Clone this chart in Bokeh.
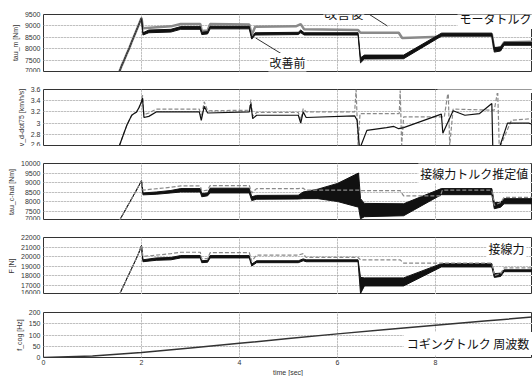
from bokeh.plotting import figure
from bokeh.layouts import column
from bokeh.models import Range1d, LinearAxis, FixedTicker, Grid, Label, CustomJSTickFormatter
from bokeh.embed import file_html
from bokeh.resources import INLINE

T_END = 9.98
x_ticks = [0, 2, 4, 6, 8]

# shared start-up ramp times
ramp_t = [1.55, 1.6, 1.65, 1.7, 1.75, 1.8, 1.85, 1.9, 1.95, 2.0]

# ---- panel 1: motor torque tau_m [Nm]
tm_ramp = [7000, 7280, 7520, 7780, 8020, 8300, 8560, 8820, 9080, 9350]
tm_before_t = [2.03, 2.15, 2.6, 2.8, 3.2, 3.23, 3.35, 3.4, 4.2, 4.25, 4.32, 5.2, 5.25, 5.32,
               6.42, 6.47, 6.55, 7.35, 8.12, 9.15, 9.2, 9.33, 9.4, 9.98]
tm_before_lo = [8600, 8700, 8730, 8850, 8850, 8620, 8650, 8870, 8870, 8420, 8600, 8620, 8700, 8600,
                8600, 7380, 7550, 7560, 8550, 8550, 7850, 7900, 8150, 8150]
tm_before_hi = [8700, 8820, 8850, 8970, 8970, 8720, 8750, 8980, 8980, 8500, 8700, 8720, 8820, 8700,
                8700, 7600, 7720, 7720, 8680, 8680, 8050, 8080, 8280, 8280]
tm_after_t = [2.03, 2.6, 2.8, 3.2, 3.23, 3.35, 3.4, 4.2, 4.25, 4.32, 5.15, 5.25, 5.32, 6.42,
              6.47, 7.25, 7.32, 8.1, 8.14, 9.15, 9.2, 9.33, 9.4, 9.98]
tm_after = [8900, 8980, 9080, 9080, 8780, 8800, 9080, 9060, 8600, 8960, 8980, 9080, 8850, 8820,
            8700, 8700, 8470, 8520, 8640, 8640, 7980, 8050, 8280, 8300]

# ---- panel 2: wheel acceleration v_d-dot75 [km/h/s]
vd_ramp = [2.6, 2.72, 2.84, 2.96, 3.05, 3.14, 3.17, 3.2, 3.28, 3.38]
vd_before_t = [2.02, 2.05, 2.15, 2.3, 3.18, 3.22, 3.28, 3.35, 4.2, 4.23, 4.27, 4.35, 5.2, 5.25,
               5.3, 5.36, 6.35, 6.4, 6.45, 6.48, 6.6, 7.0, 7.15, 7.25, 7.35, 8.12, 8.15, 8.36,
               8.6, 8.9, 9.15, 9.17, 9.3, 9.47, 9.9, 9.98]
vd_before = [3.45, 3.1, 3.12, 3.2, 3.2, 3.05, 3.3, 3.18, 3.2, 3.35, 3.08, 3.14, 3.14, 3.0,
             3.2, 3.1, 3.13, 3.05, 2.55, 2.6, 2.87, 2.92, 2.94, 2.9, 2.92, 3.16, 2.82, 3.22,
             3.14, 3.17, 3.35, 2.55, 2.55, 3.0, 3.0, 2.98]
vd_after_t = [2.02, 2.05, 2.15, 2.3, 3.18, 3.22, 3.28, 3.35, 4.2, 4.23, 4.27, 4.35, 5.2, 5.25,
              5.3, 5.36, 6.35, 6.38, 6.42, 6.46, 7.26, 7.28, 7.31, 7.35, 8.18, 8.26, 8.29, 8.36,
              9.2, 9.27, 9.3, 9.33, 9.55, 9.98]
vd_after = [3.5, 3.15, 3.18, 3.25, 3.25, 3.1, 3.38, 3.22, 3.23, 3.42, 3.12, 3.19, 3.19, 3.05,
            3.26, 3.2, 3.2, 3.6, 2.6, 3.17, 3.17, 3.58, 2.6, 3.11, 3.11, 3.58, 2.6, 3.25,
            3.23, 3.58, 2.6, 2.6, 3.05, 3.08]

# ---- panel 3: estimated tangential-force torque tau_c-hat [Nm]
tc_ramp = [7000, 7230, 7460, 7690, 7920, 8150, 8380, 8610, 8850, 9100]
tc_before_t = [2.03, 2.3, 2.6, 2.8, 3.2, 3.23, 3.35, 3.4, 4.2, 4.25, 4.35, 5.2, 5.3, 5.6, 6.0,
               6.43, 6.47, 6.55, 7.35, 8.12, 9.15, 9.2, 9.33, 9.4, 9.98]
tc_before_lo = [8350, 8380, 8450, 8500, 8500, 8250, 8300, 8450, 8450, 8050, 8120, 8130, 8150, 8150, 8000,
                7700, 7090, 7200, 7250, 8360, 8360, 7620, 7700, 7880, 7880]
tc_before_hi = [8450, 8500, 8580, 8680, 8680, 8420, 8450, 8700, 8700, 8250, 8320, 8330, 8500, 8650, 8950,
                9500, 8150, 7900, 7880, 8680, 8680, 7940, 7950, 8150, 8150]
tc_after_t = [2.03, 2.6, 2.8, 3.2, 3.23, 3.35, 3.4, 4.2, 4.25, 4.35, 5.2, 5.3, 5.35, 6.43,
              6.47, 7.28, 7.35, 8.1, 8.14, 9.15, 9.2, 9.33, 9.4, 9.98]
tc_after = [8600, 8750, 8820, 8820, 8550, 8600, 8840, 8840, 8450, 8680, 8680, 8700, 8600, 8600,
            8570, 8570, 8300, 8300, 8600, 8600, 7800, 7950, 8220, 8220]

# ---- panel 4: tangential force F [N]
f_ramp = [16000, 16550, 17100, 17650, 18200, 18750, 19300, 19850, 20450, 21150]
f_before_t = [2.03, 2.3, 2.6, 2.8, 3.2, 3.23, 3.35, 3.4, 4.2, 4.25, 4.35, 5.2, 5.3, 5.36,
              6.42, 6.47, 6.55, 7.35, 8.12, 9.15, 9.2, 9.33, 9.4, 9.98]
f_before_lo = [19450, 19600, 19650, 19850, 19850, 19350, 19400, 19850, 19850, 19000, 19350, 19350, 19550, 19450,
               19450, 16100, 16900, 16900, 18900, 18900, 17800, 17900, 18400, 18400]
f_before_hi = [19650, 19850, 19900, 20100, 20100, 19550, 19600, 20100, 20100, 19200, 19550, 19550, 19750, 19650,
               19650, 17800, 17750, 17750, 19250, 19250, 18200, 18250, 18600, 18600]
f_after_t = [2.03, 2.6, 2.8, 3.2, 3.23, 3.35, 3.4, 4.2, 4.25, 4.35, 5.2, 5.3, 5.36, 6.42,
             6.47, 7.28, 7.35, 8.1, 8.14, 9.15, 9.2, 9.33, 9.4, 9.98]
f_after = [20000, 20300, 20450, 20450, 19750, 19800, 20400, 20400, 19500, 20150, 20150, 20300, 19900, 19900,
           19650, 19650, 19300, 19300, 19300, 19300, 18000, 18200, 18800, 18800]

# ---- panel 5: cogging torque frequency f_cog [Hz]
fc_t = [0, 1, 2, 3, 4, 5, 6, 7, 8, 9, 9.98]
fc = [0, 7, 22, 42, 63, 84, 105, 124, 143, 162, 180]

FONT_TICK = "Liberation Sans"
FONT_JP = "Noto Sans CJK JP"
FRAME_W = 489
BLACK = "#111111"
GRAY = "#8a8a8a"


def make_panel(ylabel, y0, y1, yticks, top, fh, bottom):
    p = figure(frame_width=FRAME_W, frame_height=fh,
               x_range=Range1d(0, T_END), y_range=Range1d(y0, y1),
               x_axis_location=None, y_axis_location=None,
               output_backend="svg", toolbar_location=None,
               min_border_left=43, min_border_right=0,
               min_border_top=top, min_border_bottom=bottom)
    p.outline_line_color = "#333333"
    p.outline_line_width = 1
    p.background_fill_color = "white"
    p.border_fill_color = "white"
    ya = LinearAxis(ticker=FixedTicker(ticks=yticks), axis_label=ylabel,
                    formatter=CustomJSTickFormatter(code="return String(tick)"))
    ya.axis_line_color = None
    ya.major_tick_out = 0
    ya.major_tick_in = 0
    ya.minor_tick_out = 0
    ya.minor_tick_in = 0
    ya.major_label_standoff = 3
    ya.major_label_text_font = FONT_TICK
    ya.major_label_text_font_size = "7px"
    ya.major_label_text_color = "#333333"
    ya.axis_label_text_font = FONT_TICK
    ya.axis_label_text_font_size = "7px"
    ya.axis_label_text_font_style = "normal"
    ya.axis_label_text_color = "#333333"
    ya.axis_label_standoff = 3
    p.add_layout(ya, "left")
    inner = [v for v in yticks if v not in (y0, y1)]
    p.add_layout(Grid(dimension=1, ticker=FixedTicker(ticks=inner),
                      grid_line_color="#9a9a9a", grid_line_dash="1 2", grid_line_width=1))
    p.add_layout(Grid(dimension=0, ticker=FixedTicker(ticks=[v for v in x_ticks if v > 0]),
                      grid_line_color="#9a9a9a", grid_line_dash="1 2", grid_line_width=1))
    return p, (y0, y1, fh)


def ypos(geom, px_from_top):
    """data y of a point px_from_top pixels below the frame top (negative = above)."""
    y0, y1, fh = geom
    return y1 - px_from_top * (y1 - y0) / fh


def add_label(p, geom, x, px_from_top, text, size="12px", pad=2):
    lab = Label(x=x, y=ypos(geom, px_from_top), text=text, text_font=FONT_JP, text_font_size=size,
                text_color="#111111", text_baseline="middle", text_align="left",
                background_fill_color="white", background_fill_alpha=1.0,
                padding=pad, level="overlay")
    p.add_layout(lab)
    return lab


def band(p, t, lo, hi):
    p.varea(x=t, y1=lo, y2=hi, fill_color=BLACK)
    p.line(t, lo, line_color=BLACK, line_width=1)
    p.line(t, hi, line_color=BLACK, line_width=1)


# ---------------- panel 1  (page y 0..72, frame 14..71)
p1, g1 = make_panel("tau_m [Nm]", 7000, 9500, [7000, 7500, 8000, 8500, 9000, 9500], 14, 57, 1)
p1.line(ramp_t + tm_after_t, tm_ramp + tm_after, line_color=GRAY, line_width=2.5)
band(p1, ramp_t + tm_before_t, tm_ramp + tm_before_lo, tm_ramp + tm_before_hi)
p1.line(ramp_t, tm_ramp, line_color="#555555", line_width=1)
p1.line([6.58, 7.02], [9600, 8995], line_color="#333333", line_width=1)
p1.line([4.33, 4.9], [8470, 7720], line_color="#333333", line_width=1)
add_label(p1, g1, 5.71, -2, "改善後", size="13px", pad=1)
add_label(p1, g1, 4.59, 48, "改善前", size="12px", pad=1)
add_label(p1, g1, 8.45, 4, "モータトルク", size="12px", pad=2)

# ---------------- panel 2  (page y 72..146, frame 89..145)
p2, g2 = make_panel("v_d-dot75 [km/h/s]", 2.6, 3.6, [2.6, 2.8, 3.0, 3.2, 3.4, 3.6], 17, 56, 1)
p2.line(ramp_t + vd_after_t, vd_ramp + vd_after, line_color=GRAY, line_width=1.2, line_dash="4 2")
p2.line(ramp_t + vd_before_t, vd_ramp + vd_before, line_color=BLACK, line_width=1.2)
add_label(p2, g2, 8.04, -9, "車輪周加速度      ", size="12px", pad=4)
for txt, dx, dy, fs in (("v̇", 74, -9, "12px"), ("75", 81, -14, "7px"), ("d", 81, -4, "7px")):
    p2.add_layout(Label(x=8.04, y=ypos(g2, dy), x_offset=dx, text=txt, text_font="DejaVu Serif",
                        text_font_style="italic", text_font_size=fs, text_baseline="middle",
                        text_color="#111111", level="overlay"))

# ---------------- panel 3  (page y 146..220, frame 163..220)
p3, g3 = make_panel("tau_c-hat [Nm]", 7000, 10000,
                    [7000, 7500, 8000, 8500, 9000, 9500, 10000], 17, 57, 0)
band(p3, ramp_t + tc_before_t, tc_ramp + tc_before_lo, tc_ramp + tc_before_hi)
p3.line(ramp_t + tc_after_t, tc_ramp + tc_after, line_color=GRAY, line_width=1.2, line_dash="4 2")
add_label(p3, g3, 7.65, 9.5, "接線力トルク推定値", size="12px", pad=2)

# ---------------- panel 4  (page y 220..294, frame 237..294)
p4, g4 = make_panel("F [N]", 16000, 22000,
                    [16000, 17000, 18000, 19000, 20000, 21000, 22000], 17, 57, 0)
band(p4, ramp_t + f_before_t, f_ramp + f_before_lo, f_ramp + f_before_hi)
p4.line(ramp_t + f_after_t, f_ramp + f_after, line_color=GRAY, line_width=1.2, line_dash="4 2")
add_label(p4, g4, 9.04, 11, "接線力", size="12px", pad=2)

# ---------------- panel 5  (page y 294..376, frame 312..357)
p5, g5 = make_panel("f_cog [Hz]", 0, 200, [0, 50, 100, 150, 200], 18, 45, 19)
p5.line(fc_t, fc, line_color="#333333", line_width=1.5)
xa = LinearAxis(ticker=FixedTicker(ticks=x_ticks), axis_label="time [sec]")
xa.axis_line_color = None
xa.major_tick_out = 0
xa.major_tick_in = 0
xa.minor_tick_out = 0
xa.minor_tick_in = 0
xa.major_label_standoff = 2
xa.major_label_text_font = FONT_TICK
xa.major_label_text_font_size = "7px"
xa.major_label_text_color = "#333333"
xa.axis_label_text_font = FONT_TICK
xa.axis_label_text_font_size = "7px"
xa.axis_label_text_font_style = "normal"
xa.axis_label_text_color = "#333333"
xa.axis_label_standoff = 1
p5.add_layout(xa, "below")
add_label(p5, g5, 7.35, 31, "コギングトルク 周波数", size="12px", pad=3)

layout = column(p1, p2, p3, p4, p5, spacing=0)
open("out.html", "w").write(file_html(layout, INLINE))
